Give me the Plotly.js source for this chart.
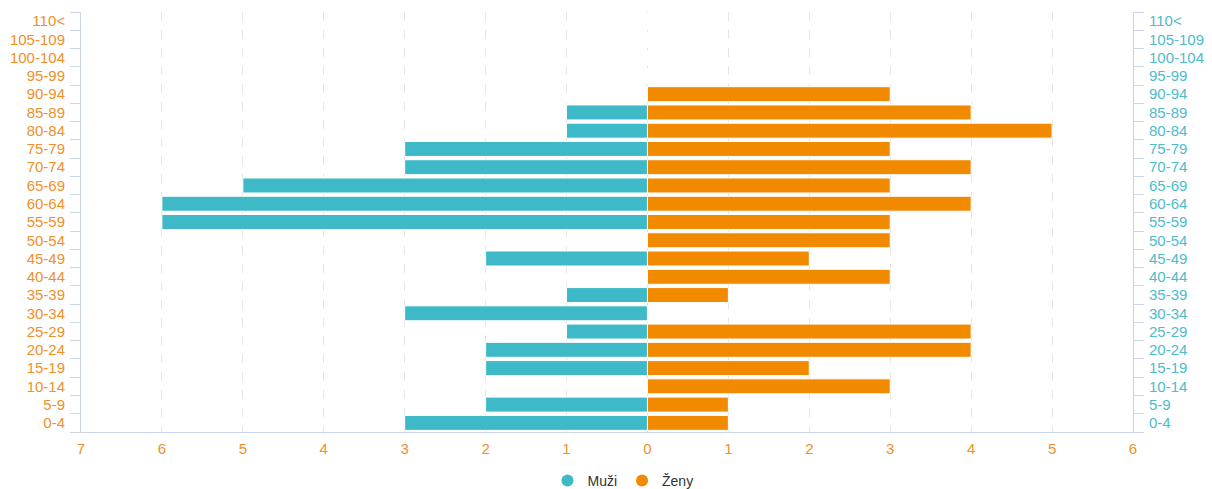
<!DOCTYPE html>
<html>
<head>
<meta charset="utf-8">
<script src="https://cdn.plot.ly/plotly-3.0.1.min.js"></script>
<style>html,body{margin:0;padding:0;background:#fff;}#chart{width:1212px;height:489px;}</style>
</head>
<body>
<div id="chart"></div>
<script>
var ageGroups = ["0-4","5-9","10-14","15-19","20-24","25-29","30-34","35-39","40-44","45-49","50-54","55-59","60-64","65-69","70-74","75-79","80-84","85-89","90-94","95-99","100-104","105-109","110<"];
var muzi = [3,2,0,2,2,1,3,1,0,2,0,6,6,5,3,3,1,1,0,0,0,0,0];
var zeny = [1,1,3,2,4,4,0,1,3,2,3,3,4,3,4,3,5,4,3,0,0,0,0];
var xTickVals = [-7,-6,-5,-4,-3,-2,-1,0,1,2,3,4,5,6];
var xTickText = ["7","6","5","4","3","2","1","0","1","2","3","4","5","6"];

var cMuzi = "#3db9c7";
var cZeny = "#f28a00";
var font = "Liberation Sans, Arial, sans-serif";

var traces = [
  {type:"bar", orientation:"h", y:ageGroups, x:muzi.map(function(v){return -v;}), xaxis:"x", yaxis:"y",
   marker:{color:cMuzi, line:{color:"#ffffff", width:1}}, width:0.82, showlegend:false, name:"Muži", hoverinfo:"skip"},
  {type:"bar", orientation:"h", y:ageGroups, x:zeny, xaxis:"x", yaxis:"y2",
   marker:{color:cZeny, line:{color:"#ffffff", width:1}}, width:0.82, showlegend:false, name:"Ženy", hoverinfo:"skip"},
  {type:"scatter", mode:"markers", x:[null], y:[null], name:"Muži", marker:{color:cMuzi, size:12, symbol:"circle"}, showlegend:true},
  {type:"scatter", mode:"markers", x:[null], y:[null], name:"Ženy", marker:{color:cZeny, size:12, symbol:"circle"}, showlegend:true}
];

var yCommon = {
  type:"category", categoryorder:"array", categoryarray:ageGroups,
  range:[-0.5, ageGroups.length-0.5], showgrid:false, zeroline:false,
  showline:true, linecolor:"#ccd6eb", linewidth:1,
  tickmode:"linear", tick0:0, dtick:1,
  ticks:"outside", ticklen:10, tickcolor:"#ccd6eb", tickson:"boundaries",
  ticklabelstandoff:12, automargin:false,
  fixedrange:true
};

var layout = {
  width:1212, height:489,
  margin:{l:81, r:79, t:12, b:57},
  paper_bgcolor:"#ffffff", plot_bgcolor:"#ffffff",
  barmode:"overlay",
  font:{family:font},
  showlegend:true,
  legend:{orientation:"h", x:0.514, xanchor:"center", xref:"container", y:1-481/489, yanchor:"middle", yref:"container",
          font:{family:font, size:14, color:"#333333"}},
  xaxis:{range:[-7,6], tickvals:xTickVals, ticktext:xTickText, showgrid:true,
         gridcolor:"#e6e6e6", griddash:"dash", gridwidth:1, zeroline:false,
         showline:true, linecolor:"#ccd6eb", ticks:"", automargin:false, ticklabelstandoff:3,
         tickfont:{family:font, size:15, color:"#f0902a"}},
  yaxis:Object.assign({}, yCommon, {side:"left", tickfont:{family:font, size:15, color:"#f0902a"}}),
  yaxis2:Object.assign({}, yCommon, {side:"right", overlaying:"y", anchor:"x", tickfont:{family:font, size:15, color:"#4dbccb"}})
};

Plotly.newPlot("chart", traces, layout, {displayModeBar:false, staticPlot:true});
</script>
</body>
</html>
